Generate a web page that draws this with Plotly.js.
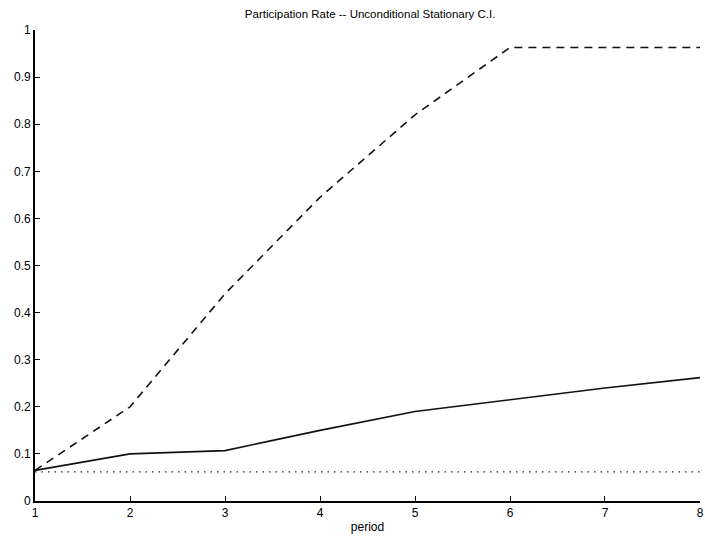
<!DOCTYPE html>
<html>
<head>
<meta charset="utf-8">
<script src="https://cdn.plot.ly/plotly-3.0.1.min.js"></script>
<style>html,body{margin:0;padding:0;background:#fff;}#chart{width:705px;height:540px;}</style>
</head>
<body>
<div id="chart"></div>
<script>
const periods = [1, 2, 3, 4, 5, 6, 7, 8];
const pointEstimate = [0.065, 0.100, 0.107, 0.150, 0.190, 0.215, 0.240, 0.262];
const upperBound = [0.065, 0.200, 0.440, 0.645, 0.820, 0.963, 0.963, 0.963];
const lowerBound = [0.062, 0.062, 0.062, 0.062, 0.062, 0.062, 0.062, 0.062];
const yTicks = [0, 0.1, 0.2, 0.3, 0.4, 0.5, 0.6, 0.7, 0.8, 0.9, 1];
const yTickLabels = ["0", "0.1", "0.2", "0.3", "0.4", "0.5", "0.6", "0.7", "0.8", "0.9", "1"];

const traces = [
  {x: periods, y: lowerBound, mode: 'lines', line: {color: '#222', width: 1.2, dash: '1.5px,5px'}, hoverinfo: 'skip'},
  {x: periods, y: upperBound, mode: 'lines', line: {color: '#111', width: 1.6, dash: '8px,6px'}, hoverinfo: 'skip'},
  {x: periods, y: pointEstimate, mode: 'lines', line: {color: '#111', width: 1.6}, hoverinfo: 'skip'}
];

const font = {family: 'Liberation Sans, Arial, sans-serif', size: 12, color: '#000'};
const layout = {
  width: 705, height: 540,
  margin: {l: 35, r: 5, t: 30, b: 39},
  paper_bgcolor: '#fff', plot_bgcolor: '#fff',
  showlegend: false,
  font: font,
  title: {text: 'Participation Rate -- Unconditional Stationary C.I.', font: {family: font.family, size: 11.5, color: '#000'}, x: 0.525, xanchor: 'center', y: 0.975, yanchor: 'middle'},
  xaxis: {
    range: [0.9999, 8.0001], tickvals: periods, ticktext: periods.map(String),
    ticklabeloverflow: 'allow',
    showgrid: false, zeroline: false, showline: true, linecolor: '#000', linewidth: 1.8,
    ticks: 'inside', ticklen: 5, tickcolor: '#000', tickfont: font,
    title: {text: 'period', font: font, standoff: 3}
  },
  yaxis: {
    range: [0, 1.0001], tickvals: yTicks, ticktext: yTickLabels,
    showgrid: false, zeroline: false, showline: true, linecolor: '#000', linewidth: 1.8,
    ticks: 'inside', ticklen: 5, tickcolor: '#000', tickfont: font
  }
};
Plotly.newPlot('chart', traces, layout, {staticPlot: true, displayModeBar: false});
</script>
</body>
</html>
